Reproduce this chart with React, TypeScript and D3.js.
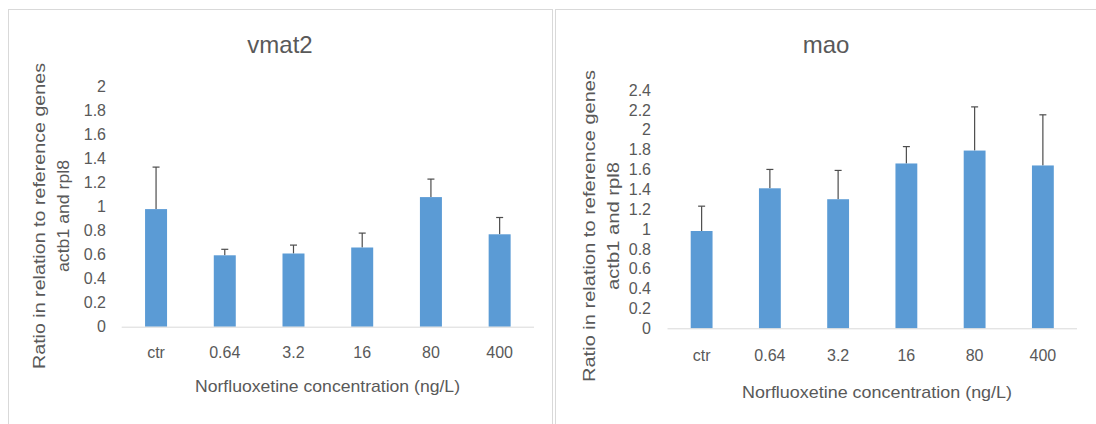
import * as d3 from "d3";

const categories = ["ctr", "0.64", "3.2", "16", "80", "400"];
const vmat2Values = [0.98, 0.595, 0.61, 0.66, 1.08, 0.77];
const vmat2Errors = [0.35, 0.05, 0.07, 0.12, 0.15, 0.14];
const maoValues = [0.98, 1.41, 1.3, 1.66, 1.79, 1.64];
const maoErrors = [0.25, 0.19, 0.29, 0.17, 0.44, 0.51];

const yTitle1 = "Ratio in relation to reference  genes";
const yTitle2 = "actb1 and rpl8";
const xTitle = "Norfluoxetine concentration (ng/L)";

const FONT = "'Liberation Sans', Arial, sans-serif";
const TEXT = "#595959";
const BAR = "#5b9bd5";

type PanelProps = {
  title: string;
  values: number[];
  errors: number[];
  yMax: number;
  x0: number;
  x1: number;
  yBase: number;
  yTop: number;
  labelX: number;
  titleX: number;
  titleY: number;
  yTitleX: number;
  yTitleCy: number;
  yTitleLen: [number, number];
  catY: number;
  xTitleX: number;
  xTitleY: number;
  xTitleLen: number;
};

const Panel = (p: PanelProps) => {
  const x = d3.scaleBand<string>().domain(categories).range([p.x0, p.x1]).paddingInner(0.68).paddingOuter(0.34);
  const y = d3.scaleLinear().domain([0, p.yMax]).range([p.yBase, p.yTop]);
  const ticks = d3.range(0, p.yMax + 0.001, 0.2);
  const bw = x.bandwidth();

  return (
    <g fontFamily={FONT} fill={TEXT}>
      <text x={p.titleX} y={p.titleY} fontSize={24} textAnchor="middle">{p.title}</text>
      {ticks.map((t) => (
        <text key={t} x={p.labelX} y={y(t)} dy="0.36em" fontSize={16} textAnchor="end">
          {String(+t.toFixed(1))}
        </text>
      ))}
      {categories.map((c, i) => {
        const cx = (x(c) ?? 0) + bw / 2;
        const top = y(p.values[i] + p.errors[i]);
        return (
          <g key={c}>
            <line x1={cx} x2={cx} y1={y(p.values[i])} y2={top} stroke="#4d4d4d" strokeWidth={1.2} />
            <line x1={cx - 3.5} x2={cx + 3.5} y1={top} y2={top} stroke="#4d4d4d" strokeWidth={1.2} />
            <rect x={x(c)} y={y(p.values[i])} width={bw} height={p.yBase - y(p.values[i])} fill={BAR} />
            <text x={cx} y={p.catY} fontSize={16} textAnchor="middle">{c}</text>
          </g>
        );
      })}
      <line x1={p.x0} x2={p.x1} y1={p.yBase + 0.5} y2={p.yBase + 0.5} stroke="#d9d9d9" strokeWidth={1} />
      <text x={p.xTitleX} y={p.xTitleY} fontSize={17} textAnchor="middle" textLength={p.xTitleLen} lengthAdjust="spacingAndGlyphs">
        {xTitle}
      </text>
      <g transform={`translate(${p.yTitleX},${p.yTitleCy}) rotate(-90)`}>
        <text x={0} y={0} fontSize={16} textAnchor="middle" textLength={p.yTitleLen[0]} lengthAdjust="spacingAndGlyphs">
          {yTitle1}
        </text>
        <text x={0} y={24} fontSize={16} textAnchor="middle" textLength={p.yTitleLen[1]} lengthAdjust="spacingAndGlyphs">
          {yTitle2}
        </text>
      </g>
    </g>
  );
};

export default function App() {
  return (
    <svg
      width={1096}
      height={424}
      style={{ position: "absolute", left: 0, top: 0, background: "#fff" }}
    >
      <rect x={8.5} y={9.5} width={544} height={430} fill="#fff" stroke="#d9d9d9" />
      <rect x={555.5} y={9.5} width={560} height={430} fill="#fff" stroke="#d9d9d9" />
      <Panel
        title="vmat2"
        values={vmat2Values}
        errors={vmat2Errors}
        yMax={2}
        x0={121.7}
        x1={534}
        yBase={326.7}
        yTop={86.7}
        labelX={106}
        titleX={280}
        titleY={53}
        yTitleX={45}
        yTitleCy={216}
        yTitleLen={[306, 112]}
        catY={358}
        xTitleX={327.5}
        xTitleY={392}
        xTitleLen={265}
      />
      <Panel
        title="mao"
        values={maoValues}
        errors={maoErrors}
        yMax={2.4}
        x0={667.5}
        x1={1077}
        yBase={328.3}
        yTop={90}
        labelX={651}
        titleX={826}
        titleY={53}
        yTitleX={595}
        yTitleCy={226}
        yTitleLen={[312, 128]}
        catY={361}
        xTitleX={877}
        xTitleY={398}
        xTitleLen={270}
      />
    </svg>
  );
}
